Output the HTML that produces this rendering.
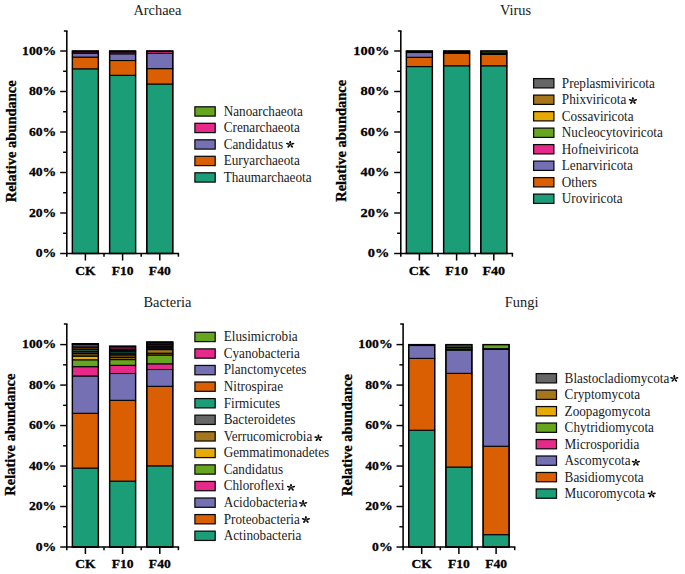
<!DOCTYPE html>
<html><head><meta charset="utf-8"><title>Relative abundance</title>
<style>
html,body{margin:0;padding:0;background:#fff;}
body{width:685px;height:574px;overflow:hidden;}
svg{display:block;}
text{font-family:'Liberation Serif', serif;fill:#1a1a1a;}
.b{fill:#000;stroke:#000;stroke-width:0.3px;}
</style></head>
<body>
<svg width="685" height="574" viewBox="0 0 685 574">
<rect width="685" height="574" fill="#fff"/>
<rect x="72.40" y="68.82" width="26.00" height="184.68" fill="#1b9e77" stroke="#000" stroke-width="1.05"/>
<rect x="72.40" y="57.08" width="26.00" height="11.74" fill="#d95f02" stroke="#000" stroke-width="1.05"/>
<rect x="72.40" y="53.23" width="26.00" height="3.85" fill="#7570b3" stroke="#000" stroke-width="1.05"/>
<rect x="72.40" y="51.81" width="26.00" height="1.42" fill="#c42275" stroke="#000" stroke-width="1.05"/>
<rect x="72.40" y="51.00" width="26.00" height="0.81" fill="#568d19" stroke="#000" stroke-width="1.05"/>
<rect x="72.40" y="51.00" width="26.00" height="202.50" fill="none" stroke="#000" stroke-width="1.35"/>
<rect x="109.60" y="75.30" width="26.00" height="178.20" fill="#1b9e77" stroke="#000" stroke-width="1.05"/>
<rect x="109.60" y="60.52" width="26.00" height="14.78" fill="#d95f02" stroke="#000" stroke-width="1.05"/>
<rect x="109.60" y="53.84" width="26.00" height="6.68" fill="#7570b3" stroke="#000" stroke-width="1.05"/>
<rect x="109.60" y="52.01" width="26.00" height="1.82" fill="#c42275" stroke="#000" stroke-width="1.05"/>
<rect x="109.60" y="51.00" width="26.00" height="1.01" fill="#568d19" stroke="#000" stroke-width="1.05"/>
<rect x="109.60" y="51.00" width="26.00" height="202.50" fill="none" stroke="#000" stroke-width="1.35"/>
<rect x="146.80" y="84.01" width="26.00" height="169.49" fill="#1b9e77" stroke="#000" stroke-width="1.05"/>
<rect x="146.80" y="68.62" width="26.00" height="15.39" fill="#d95f02" stroke="#000" stroke-width="1.05"/>
<rect x="146.80" y="53.43" width="26.00" height="15.19" fill="#7570b3" stroke="#000" stroke-width="1.05"/>
<rect x="146.80" y="51.41" width="26.00" height="2.03" fill="#c42275" stroke="#000" stroke-width="1.05"/>
<rect x="146.80" y="51.00" width="26.00" height="0.41" fill="#568d19" stroke="#000" stroke-width="1.05"/>
<rect x="146.80" y="51.00" width="26.00" height="202.50" fill="none" stroke="#000" stroke-width="1.35"/>
<line x1="66.80" y1="31.00" x2="66.80" y2="256.70" stroke="#000" stroke-width="1.55"/>
<line x1="63.90" y1="31.00" x2="67.50" y2="31.00" stroke="#000" stroke-width="1.5"/>
<line x1="60.20" y1="253.50" x2="66.80" y2="253.50" stroke="#000" stroke-width="1.45"/>
<line x1="63.10" y1="233.25" x2="66.80" y2="233.25" stroke="#000" stroke-width="1.45"/>
<line x1="60.20" y1="213.00" x2="66.80" y2="213.00" stroke="#000" stroke-width="1.45"/>
<line x1="63.10" y1="192.75" x2="66.80" y2="192.75" stroke="#000" stroke-width="1.45"/>
<line x1="60.20" y1="172.50" x2="66.80" y2="172.50" stroke="#000" stroke-width="1.45"/>
<line x1="63.10" y1="152.25" x2="66.80" y2="152.25" stroke="#000" stroke-width="1.45"/>
<line x1="60.20" y1="132.00" x2="66.80" y2="132.00" stroke="#000" stroke-width="1.45"/>
<line x1="63.10" y1="111.75" x2="66.80" y2="111.75" stroke="#000" stroke-width="1.45"/>
<line x1="60.20" y1="91.50" x2="66.80" y2="91.50" stroke="#000" stroke-width="1.45"/>
<line x1="63.10" y1="71.25" x2="66.80" y2="71.25" stroke="#000" stroke-width="1.45"/>
<line x1="60.20" y1="51.00" x2="66.80" y2="51.00" stroke="#000" stroke-width="1.45"/>
<line x1="65.90" y1="253.50" x2="179.10" y2="253.50" stroke="#000" stroke-width="1.4"/>
<line x1="85.40" y1="253.50" x2="85.40" y2="260.50" stroke="#000" stroke-width="1.5"/>
<line x1="104.00" y1="253.50" x2="104.00" y2="256.70" stroke="#000" stroke-width="1.5"/>
<line x1="122.60" y1="253.50" x2="122.60" y2="260.50" stroke="#000" stroke-width="1.5"/>
<line x1="141.20" y1="253.50" x2="141.20" y2="256.70" stroke="#000" stroke-width="1.5"/>
<line x1="159.80" y1="253.50" x2="159.80" y2="260.50" stroke="#000" stroke-width="1.5"/>
<line x1="178.40" y1="253.50" x2="178.40" y2="256.70" stroke="#000" stroke-width="1.5"/>
<text transform="translate(56.30 257.06) scale(1 0.87)" x="0" y="0" font-size="13.7" font-weight="bold" text-anchor="end"  class="b">0%</text>
<text transform="translate(56.30 216.56) scale(1 0.87)" x="0" y="0" font-size="13.7" font-weight="bold" text-anchor="end"  class="b">20%</text>
<text transform="translate(56.30 176.06) scale(1 0.87)" x="0" y="0" font-size="13.7" font-weight="bold" text-anchor="end"  class="b">40%</text>
<text transform="translate(56.30 135.56) scale(1 0.87)" x="0" y="0" font-size="13.7" font-weight="bold" text-anchor="end"  class="b">60%</text>
<text transform="translate(56.30 95.06) scale(1 0.87)" x="0" y="0" font-size="13.7" font-weight="bold" text-anchor="end"  class="b">80%</text>
<text transform="translate(56.30 54.56) scale(1 0.87)" x="0" y="0" font-size="13.7" font-weight="bold" text-anchor="end"  class="b">100%</text>
<text transform="translate(85.40 274.70) scale(1 0.9)" x="0" y="0" font-size="13.6" font-weight="bold" text-anchor="middle"  class="b">CK</text>
<text transform="translate(122.60 274.70) scale(1 0.9)" x="0" y="0" font-size="13.6" font-weight="bold" text-anchor="middle"  class="b">F10</text>
<text transform="translate(159.80 274.70) scale(1 0.9)" x="0" y="0" font-size="13.6" font-weight="bold" text-anchor="middle"  class="b">F40</text>
<text transform="translate(15.90,141.30) rotate(-90)" x="0" y="0" font-size="14.5" font-weight="bold" text-anchor="middle" class="b">Relative abundance</text>
<text x="133.40" y="15.20" font-size="14.4" font-weight="normal" text-anchor="start" >Archaea</text>
<rect x="194.90" y="106.80" width="20.3" height="9.3" fill="#66a61e" stroke="#0a0a0a" stroke-width="1.25"/>
<text transform="translate(223.70 115.85) scale(1 1.08)" x="0" y="0" font-size="13.2" font-weight="normal" text-anchor="start">Nanoarchaeota</text>
<rect x="194.90" y="123.30" width="20.3" height="9.3" fill="#e7298a" stroke="#0a0a0a" stroke-width="1.25"/>
<text transform="translate(223.70 132.35) scale(1 1.08)" x="0" y="0" font-size="13.2" font-weight="normal" text-anchor="start">Crenarchaeota</text>
<rect x="194.90" y="139.80" width="20.3" height="9.3" fill="#7570b3" stroke="#0a0a0a" stroke-width="1.25"/>
<text transform="translate(223.70 148.85) scale(1 1.08)" x="0" y="0" font-size="13.2" font-weight="normal" text-anchor="start">Candidatus</text>
<g fill="#000" transform="translate(0 20.23) scale(1 0.86)"><ellipse cx="290.20" cy="141.92" rx="1.81" ry="0.95" transform="rotate(-90 290.20 141.92)"/><ellipse cx="292.65" cy="143.70" rx="1.81" ry="0.95" transform="rotate(-18 292.65 143.70)"/><ellipse cx="291.72" cy="146.59" rx="1.81" ry="0.95" transform="rotate(54 291.72 146.59)"/><ellipse cx="288.68" cy="146.59" rx="1.81" ry="0.95" transform="rotate(126 288.68 146.59)"/><ellipse cx="287.75" cy="143.70" rx="1.81" ry="0.95" transform="rotate(198 287.75 143.70)"/><circle cx="290.20" cy="144.50" r="0.95"/></g>
<rect x="194.90" y="156.30" width="20.3" height="9.3" fill="#d95f02" stroke="#0a0a0a" stroke-width="1.25"/>
<text transform="translate(223.70 165.35) scale(1 1.08)" x="0" y="0" font-size="13.2" font-weight="normal" text-anchor="start">Euryarchaeota</text>
<rect x="194.90" y="172.80" width="20.3" height="9.3" fill="#1b9e77" stroke="#0a0a0a" stroke-width="1.25"/>
<text transform="translate(223.70 181.85) scale(1 1.08)" x="0" y="0" font-size="13.2" font-weight="normal" text-anchor="start">Thaumarchaeota</text>
<rect x="406.40" y="66.59" width="26.00" height="186.91" fill="#1b9e77" stroke="#000" stroke-width="1.05"/>
<rect x="406.40" y="57.28" width="26.00" height="9.31" fill="#d95f02" stroke="#000" stroke-width="1.05"/>
<rect x="406.40" y="52.52" width="26.00" height="4.76" fill="#7570b3" stroke="#000" stroke-width="1.05"/>
<rect x="406.40" y="51.81" width="26.00" height="0.71" fill="#301020" stroke="#000" stroke-width="1.05"/>
<rect x="406.40" y="51.00" width="26.00" height="0.81" fill="#0a0a0a" stroke="#000" stroke-width="1.05"/>
<rect x="406.40" y="51.00" width="26.00" height="202.50" fill="none" stroke="#000" stroke-width="1.35"/>
<rect x="443.60" y="65.78" width="26.00" height="187.72" fill="#1b9e77" stroke="#000" stroke-width="1.05"/>
<rect x="443.60" y="53.43" width="26.00" height="12.35" fill="#d95f02" stroke="#000" stroke-width="1.05"/>
<rect x="443.60" y="52.22" width="26.00" height="1.22" fill="#7570b3" stroke="#000" stroke-width="1.05"/>
<rect x="443.60" y="51.00" width="26.00" height="1.22" fill="#1a1010" stroke="#000" stroke-width="1.05"/>
<rect x="443.60" y="51.00" width="26.00" height="202.50" fill="none" stroke="#000" stroke-width="1.35"/>
<rect x="480.80" y="65.78" width="26.00" height="187.72" fill="#1b9e77" stroke="#000" stroke-width="1.05"/>
<rect x="480.80" y="54.44" width="26.00" height="11.34" fill="#d95f02" stroke="#000" stroke-width="1.05"/>
<rect x="480.80" y="52.82" width="26.00" height="1.62" fill="#0a0a0a" stroke="#000" stroke-width="1.05"/>
<rect x="480.80" y="51.00" width="26.00" height="1.82" fill="#66a61e" stroke="#000" stroke-width="1.05"/>
<rect x="480.80" y="51.00" width="26.00" height="202.50" fill="none" stroke="#000" stroke-width="1.35"/>
<line x1="400.80" y1="31.00" x2="400.80" y2="256.70" stroke="#000" stroke-width="1.55"/>
<line x1="397.90" y1="31.00" x2="401.50" y2="31.00" stroke="#000" stroke-width="1.5"/>
<line x1="394.20" y1="253.50" x2="400.80" y2="253.50" stroke="#000" stroke-width="1.45"/>
<line x1="397.10" y1="233.25" x2="400.80" y2="233.25" stroke="#000" stroke-width="1.45"/>
<line x1="394.20" y1="213.00" x2="400.80" y2="213.00" stroke="#000" stroke-width="1.45"/>
<line x1="397.10" y1="192.75" x2="400.80" y2="192.75" stroke="#000" stroke-width="1.45"/>
<line x1="394.20" y1="172.50" x2="400.80" y2="172.50" stroke="#000" stroke-width="1.45"/>
<line x1="397.10" y1="152.25" x2="400.80" y2="152.25" stroke="#000" stroke-width="1.45"/>
<line x1="394.20" y1="132.00" x2="400.80" y2="132.00" stroke="#000" stroke-width="1.45"/>
<line x1="397.10" y1="111.75" x2="400.80" y2="111.75" stroke="#000" stroke-width="1.45"/>
<line x1="394.20" y1="91.50" x2="400.80" y2="91.50" stroke="#000" stroke-width="1.45"/>
<line x1="397.10" y1="71.25" x2="400.80" y2="71.25" stroke="#000" stroke-width="1.45"/>
<line x1="394.20" y1="51.00" x2="400.80" y2="51.00" stroke="#000" stroke-width="1.45"/>
<line x1="399.90" y1="253.50" x2="513.10" y2="253.50" stroke="#000" stroke-width="1.4"/>
<line x1="419.40" y1="253.50" x2="419.40" y2="260.50" stroke="#000" stroke-width="1.5"/>
<line x1="438.00" y1="253.50" x2="438.00" y2="256.70" stroke="#000" stroke-width="1.5"/>
<line x1="456.60" y1="253.50" x2="456.60" y2="260.50" stroke="#000" stroke-width="1.5"/>
<line x1="475.20" y1="253.50" x2="475.20" y2="256.70" stroke="#000" stroke-width="1.5"/>
<line x1="493.80" y1="253.50" x2="493.80" y2="260.50" stroke="#000" stroke-width="1.5"/>
<line x1="512.40" y1="253.50" x2="512.40" y2="256.70" stroke="#000" stroke-width="1.5"/>
<text transform="translate(389.30 257.24) scale(1 0.87)" x="0" y="0" font-size="14.4" font-weight="bold" text-anchor="end"  class="b">0%</text>
<text transform="translate(389.30 216.74) scale(1 0.87)" x="0" y="0" font-size="14.4" font-weight="bold" text-anchor="end"  class="b">20%</text>
<text transform="translate(389.30 176.24) scale(1 0.87)" x="0" y="0" font-size="14.4" font-weight="bold" text-anchor="end"  class="b">40%</text>
<text transform="translate(389.30 135.74) scale(1 0.87)" x="0" y="0" font-size="14.4" font-weight="bold" text-anchor="end"  class="b">60%</text>
<text transform="translate(389.30 95.24) scale(1 0.87)" x="0" y="0" font-size="14.4" font-weight="bold" text-anchor="end"  class="b">80%</text>
<text transform="translate(389.30 54.74) scale(1 0.87)" x="0" y="0" font-size="14.4" font-weight="bold" text-anchor="end"  class="b">100%</text>
<text transform="translate(419.40 274.70) scale(1 0.9)" x="0" y="0" font-size="14.1" font-weight="bold" text-anchor="middle"  class="b">CK</text>
<text transform="translate(456.60 274.70) scale(1 0.9)" x="0" y="0" font-size="14.1" font-weight="bold" text-anchor="middle"  class="b">F10</text>
<text transform="translate(493.80 274.70) scale(1 0.9)" x="0" y="0" font-size="14.1" font-weight="bold" text-anchor="middle"  class="b">F40</text>
<text transform="translate(346.40,140.80) rotate(-90)" x="0" y="0" font-size="14.5" font-weight="bold" text-anchor="middle" class="b">Relative abundance</text>
<text x="500.00" y="15.20" font-size="14.4" font-weight="normal" text-anchor="start" >Virus</text>
<rect x="533.60" y="78.60" width="20.3" height="9.3" fill="#666666" stroke="#0a0a0a" stroke-width="1.25"/>
<text transform="translate(561.80 87.65) scale(1 1.08)" x="0" y="0" font-size="13.2" font-weight="normal" text-anchor="start">Preplasmiviricota</text>
<rect x="533.60" y="95.10" width="20.3" height="9.3" fill="#a6761d" stroke="#0a0a0a" stroke-width="1.25"/>
<text transform="translate(561.80 104.15) scale(1 1.08)" x="0" y="0" font-size="13.2" font-weight="normal" text-anchor="start">Phixviricota</text>
<g fill="#000" transform="translate(0 14.10) scale(1 0.86)"><ellipse cx="632.90" cy="98.12" rx="1.81" ry="0.95" transform="rotate(-90 632.90 98.12)"/><ellipse cx="635.35" cy="99.90" rx="1.81" ry="0.95" transform="rotate(-18 635.35 99.90)"/><ellipse cx="634.42" cy="102.79" rx="1.81" ry="0.95" transform="rotate(54 634.42 102.79)"/><ellipse cx="631.38" cy="102.79" rx="1.81" ry="0.95" transform="rotate(126 631.38 102.79)"/><ellipse cx="630.45" cy="99.90" rx="1.81" ry="0.95" transform="rotate(198 630.45 99.90)"/><circle cx="632.90" cy="100.70" r="0.95"/></g>
<rect x="533.60" y="111.60" width="20.3" height="9.3" fill="#e6ab02" stroke="#0a0a0a" stroke-width="1.25"/>
<text transform="translate(561.80 120.65) scale(1 1.08)" x="0" y="0" font-size="13.2" font-weight="normal" text-anchor="start">Cossaviricota</text>
<rect x="533.60" y="128.10" width="20.3" height="9.3" fill="#66a61e" stroke="#0a0a0a" stroke-width="1.25"/>
<text transform="translate(561.80 137.15) scale(1 1.08)" x="0" y="0" font-size="13.2" font-weight="normal" text-anchor="start">Nucleocytoviricota</text>
<rect x="533.60" y="144.60" width="20.3" height="9.3" fill="#e7298a" stroke="#0a0a0a" stroke-width="1.25"/>
<text transform="translate(561.80 153.65) scale(1 1.08)" x="0" y="0" font-size="13.2" font-weight="normal" text-anchor="start">Hofneiviricota</text>
<rect x="533.60" y="161.10" width="20.3" height="9.3" fill="#7570b3" stroke="#0a0a0a" stroke-width="1.25"/>
<text transform="translate(561.80 170.15) scale(1 1.08)" x="0" y="0" font-size="13.2" font-weight="normal" text-anchor="start">Lenarviricota</text>
<rect x="533.60" y="177.60" width="20.3" height="9.3" fill="#d95f02" stroke="#0a0a0a" stroke-width="1.25"/>
<text transform="translate(561.80 186.65) scale(1 1.08)" x="0" y="0" font-size="13.2" font-weight="normal" text-anchor="start">Others</text>
<rect x="533.60" y="194.10" width="20.3" height="9.3" fill="#1b9e77" stroke="#0a0a0a" stroke-width="1.25"/>
<text transform="translate(561.80 203.15) scale(1 1.08)" x="0" y="0" font-size="13.2" font-weight="normal" text-anchor="start">Uroviricota</text>
<rect x="72.40" y="468.06" width="26.00" height="78.94" fill="#1b9e77" stroke="#000" stroke-width="1.05"/>
<rect x="72.40" y="413.29" width="26.00" height="54.77" fill="#d95f02" stroke="#000" stroke-width="1.05"/>
<rect x="72.40" y="375.97" width="26.00" height="37.32" fill="#7570b3" stroke="#000" stroke-width="1.05"/>
<rect x="72.40" y="366.66" width="26.00" height="9.31" fill="#e7298a" stroke="#000" stroke-width="1.05"/>
<rect x="72.40" y="359.78" width="26.00" height="6.88" fill="#66a61e" stroke="#000" stroke-width="1.05"/>
<rect x="72.40" y="356.14" width="26.00" height="3.64" fill="#e6ab02" stroke="#000" stroke-width="1.05"/>
<rect x="72.40" y="353.30" width="26.00" height="2.83" fill="#634611" stroke="#000" stroke-width="1.05"/>
<rect x="72.40" y="351.48" width="26.00" height="1.82" fill="#3d3d3d" stroke="#000" stroke-width="1.05"/>
<rect x="72.40" y="349.26" width="26.00" height="2.23" fill="#105e47" stroke="#000" stroke-width="1.05"/>
<rect x="72.40" y="347.03" width="26.00" height="2.23" fill="#823901" stroke="#000" stroke-width="1.05"/>
<rect x="72.40" y="344.40" width="26.00" height="2.63" fill="#46436b" stroke="#000" stroke-width="1.05"/>
<rect x="72.40" y="343.99" width="26.00" height="0.40" fill="#8a1852" stroke="#000" stroke-width="1.05"/>
<rect x="72.40" y="343.69" width="26.00" height="0.30" fill="#3d6312" stroke="#000" stroke-width="1.05"/>
<rect x="72.40" y="343.69" width="26.00" height="203.31" fill="none" stroke="#000" stroke-width="1.35"/>
<rect x="109.60" y="481.12" width="26.00" height="65.88" fill="#1b9e77" stroke="#000" stroke-width="1.05"/>
<rect x="109.60" y="400.30" width="26.00" height="80.82" fill="#d95f02" stroke="#000" stroke-width="1.05"/>
<rect x="109.60" y="373.50" width="26.00" height="26.80" fill="#7570b3" stroke="#000" stroke-width="1.05"/>
<rect x="109.60" y="365.31" width="26.00" height="8.20" fill="#e7298a" stroke="#000" stroke-width="1.05"/>
<rect x="109.60" y="359.60" width="26.00" height="5.71" fill="#66a61e" stroke="#000" stroke-width="1.05"/>
<rect x="109.60" y="357.49" width="26.00" height="2.10" fill="#8a6601" stroke="#000" stroke-width="1.05"/>
<rect x="109.60" y="354.80" width="26.00" height="2.69" fill="#634611" stroke="#000" stroke-width="1.05"/>
<rect x="109.60" y="353.20" width="26.00" height="1.60" fill="#3d3d3d" stroke="#000" stroke-width="1.05"/>
<rect x="109.60" y="351.20" width="26.00" height="2.00" fill="#105e47" stroke="#000" stroke-width="1.05"/>
<rect x="109.60" y="350.27" width="26.00" height="0.93" fill="#823901" stroke="#000" stroke-width="1.05"/>
<rect x="109.60" y="349.30" width="26.00" height="0.97" fill="#46436b" stroke="#000" stroke-width="1.05"/>
<rect x="109.60" y="346.73" width="26.00" height="2.57" fill="#8a1852" stroke="#000" stroke-width="1.05"/>
<rect x="109.60" y="346.22" width="26.00" height="0.51" fill="#3d6312" stroke="#000" stroke-width="1.05"/>
<rect x="109.60" y="346.22" width="26.00" height="200.78" fill="none" stroke="#000" stroke-width="1.35"/>
<rect x="146.80" y="465.84" width="26.00" height="81.16" fill="#1b9e77" stroke="#000" stroke-width="1.05"/>
<rect x="146.80" y="386.29" width="26.00" height="79.54" fill="#d95f02" stroke="#000" stroke-width="1.05"/>
<rect x="146.80" y="369.50" width="26.00" height="16.80" fill="#7570b3" stroke="#000" stroke-width="1.05"/>
<rect x="146.80" y="363.83" width="26.00" height="5.67" fill="#e7298a" stroke="#000" stroke-width="1.05"/>
<rect x="146.80" y="355.00" width="26.00" height="8.82" fill="#66a61e" stroke="#000" stroke-width="1.05"/>
<rect x="146.80" y="353.20" width="26.00" height="1.80" fill="#8a6601" stroke="#000" stroke-width="1.05"/>
<rect x="146.80" y="349.60" width="26.00" height="3.60" fill="#a6761d" stroke="#000" stroke-width="1.05"/>
<rect x="146.80" y="345.90" width="26.00" height="3.70" fill="#0a0a0a" stroke="#000" stroke-width="1.05"/>
<rect x="146.80" y="344.30" width="26.00" height="1.60" fill="#46436b" stroke="#000" stroke-width="1.05"/>
<rect x="146.80" y="342.80" width="26.00" height="1.50" fill="#8a1852" stroke="#000" stroke-width="1.05"/>
<rect x="146.80" y="342.01" width="26.00" height="0.79" fill="#3d6312" stroke="#000" stroke-width="1.05"/>
<rect x="146.80" y="342.01" width="26.00" height="204.99" fill="none" stroke="#000" stroke-width="1.35"/>
<line x1="66.80" y1="324.00" x2="66.80" y2="550.20" stroke="#000" stroke-width="1.55"/>
<line x1="63.90" y1="324.00" x2="67.50" y2="324.00" stroke="#000" stroke-width="1.5"/>
<line x1="60.20" y1="547.00" x2="66.80" y2="547.00" stroke="#000" stroke-width="1.45"/>
<line x1="63.10" y1="526.76" x2="66.80" y2="526.76" stroke="#000" stroke-width="1.45"/>
<line x1="60.20" y1="506.52" x2="66.80" y2="506.52" stroke="#000" stroke-width="1.45"/>
<line x1="63.10" y1="486.28" x2="66.80" y2="486.28" stroke="#000" stroke-width="1.45"/>
<line x1="60.20" y1="466.04" x2="66.80" y2="466.04" stroke="#000" stroke-width="1.45"/>
<line x1="63.10" y1="445.80" x2="66.80" y2="445.80" stroke="#000" stroke-width="1.45"/>
<line x1="60.20" y1="425.56" x2="66.80" y2="425.56" stroke="#000" stroke-width="1.45"/>
<line x1="63.10" y1="405.32" x2="66.80" y2="405.32" stroke="#000" stroke-width="1.45"/>
<line x1="60.20" y1="385.08" x2="66.80" y2="385.08" stroke="#000" stroke-width="1.45"/>
<line x1="63.10" y1="364.84" x2="66.80" y2="364.84" stroke="#000" stroke-width="1.45"/>
<line x1="60.20" y1="344.60" x2="66.80" y2="344.60" stroke="#000" stroke-width="1.45"/>
<line x1="65.90" y1="547.00" x2="179.10" y2="547.00" stroke="#000" stroke-width="1.4"/>
<line x1="85.40" y1="547.00" x2="85.40" y2="554.00" stroke="#000" stroke-width="1.5"/>
<line x1="104.00" y1="547.00" x2="104.00" y2="550.20" stroke="#000" stroke-width="1.5"/>
<line x1="122.60" y1="547.00" x2="122.60" y2="554.00" stroke="#000" stroke-width="1.5"/>
<line x1="141.20" y1="547.00" x2="141.20" y2="550.20" stroke="#000" stroke-width="1.5"/>
<line x1="159.80" y1="547.00" x2="159.80" y2="554.00" stroke="#000" stroke-width="1.5"/>
<line x1="178.40" y1="547.00" x2="178.40" y2="550.20" stroke="#000" stroke-width="1.5"/>
<text transform="translate(56.30 550.56) scale(1 0.87)" x="0" y="0" font-size="13.7" font-weight="bold" text-anchor="end"  class="b">0%</text>
<text transform="translate(56.30 510.08) scale(1 0.87)" x="0" y="0" font-size="13.7" font-weight="bold" text-anchor="end"  class="b">20%</text>
<text transform="translate(56.30 469.60) scale(1 0.87)" x="0" y="0" font-size="13.7" font-weight="bold" text-anchor="end"  class="b">40%</text>
<text transform="translate(56.30 429.12) scale(1 0.87)" x="0" y="0" font-size="13.7" font-weight="bold" text-anchor="end"  class="b">60%</text>
<text transform="translate(56.30 388.64) scale(1 0.87)" x="0" y="0" font-size="13.7" font-weight="bold" text-anchor="end"  class="b">80%</text>
<text transform="translate(56.30 348.16) scale(1 0.87)" x="0" y="0" font-size="13.7" font-weight="bold" text-anchor="end"  class="b">100%</text>
<text transform="translate(85.40 568.20) scale(1 0.9)" x="0" y="0" font-size="13.6" font-weight="bold" text-anchor="middle"  class="b">CK</text>
<text transform="translate(122.60 568.20) scale(1 0.9)" x="0" y="0" font-size="13.6" font-weight="bold" text-anchor="middle"  class="b">F10</text>
<text transform="translate(159.80 568.20) scale(1 0.9)" x="0" y="0" font-size="13.6" font-weight="bold" text-anchor="middle"  class="b">F40</text>
<text transform="translate(15.30,434.70) rotate(-90)" x="0" y="0" font-size="14.5" font-weight="bold" text-anchor="middle" class="b">Relative abundance</text>
<text x="143.40" y="306.70" font-size="14.4" font-weight="normal" text-anchor="start" >Bacteria</text>
<rect x="194.90" y="332.30" width="20.3" height="9.3" fill="#66a61e" stroke="#0a0a0a" stroke-width="1.25"/>
<text transform="translate(223.70 341.35) scale(1 1.08)" x="0" y="0" font-size="13.2" font-weight="normal" text-anchor="start">Elusimicrobia</text>
<rect x="194.90" y="348.87" width="20.3" height="9.3" fill="#e7298a" stroke="#0a0a0a" stroke-width="1.25"/>
<text transform="translate(223.70 357.92) scale(1 1.08)" x="0" y="0" font-size="13.2" font-weight="normal" text-anchor="start">Cyanobacteria</text>
<rect x="194.90" y="365.44" width="20.3" height="9.3" fill="#7570b3" stroke="#0a0a0a" stroke-width="1.25"/>
<text transform="translate(223.70 374.49) scale(1 1.08)" x="0" y="0" font-size="13.2" font-weight="normal" text-anchor="start">Planctomycetes</text>
<rect x="194.90" y="382.01" width="20.3" height="9.3" fill="#d95f02" stroke="#0a0a0a" stroke-width="1.25"/>
<text transform="translate(223.70 391.06) scale(1 1.08)" x="0" y="0" font-size="13.2" font-weight="normal" text-anchor="start">Nitrospirae</text>
<rect x="194.90" y="398.58" width="20.3" height="9.3" fill="#1b9e77" stroke="#0a0a0a" stroke-width="1.25"/>
<text transform="translate(223.70 407.63) scale(1 1.08)" x="0" y="0" font-size="13.2" font-weight="normal" text-anchor="start">Firmicutes</text>
<rect x="194.90" y="415.15" width="20.3" height="9.3" fill="#666666" stroke="#0a0a0a" stroke-width="1.25"/>
<text transform="translate(223.70 424.20) scale(1 1.08)" x="0" y="0" font-size="13.2" font-weight="normal" text-anchor="start">Bacteroidetes</text>
<rect x="194.90" y="431.72" width="20.3" height="9.3" fill="#a6761d" stroke="#0a0a0a" stroke-width="1.25"/>
<text transform="translate(223.70 440.77) scale(1 1.08)" x="0" y="0" font-size="13.2" font-weight="normal" text-anchor="start">Verrucomicrobia</text>
<g fill="#000" transform="translate(0 61.31) scale(1 0.86)"><ellipse cx="318.40" cy="435.32" rx="1.81" ry="0.95" transform="rotate(-90 318.40 435.32)"/><ellipse cx="320.85" cy="437.10" rx="1.81" ry="0.95" transform="rotate(-18 320.85 437.10)"/><ellipse cx="319.92" cy="439.99" rx="1.81" ry="0.95" transform="rotate(54 319.92 439.99)"/><ellipse cx="316.88" cy="439.99" rx="1.81" ry="0.95" transform="rotate(126 316.88 439.99)"/><ellipse cx="315.95" cy="437.10" rx="1.81" ry="0.95" transform="rotate(198 315.95 437.10)"/><circle cx="318.40" cy="437.90" r="0.95"/></g>
<rect x="194.90" y="448.29" width="20.3" height="9.3" fill="#e6ab02" stroke="#0a0a0a" stroke-width="1.25"/>
<text transform="translate(223.70 457.34) scale(1 1.08)" x="0" y="0" font-size="13.2" font-weight="normal" text-anchor="start">Gemmatimonadetes</text>
<rect x="194.90" y="464.86" width="20.3" height="9.3" fill="#66a61e" stroke="#0a0a0a" stroke-width="1.25"/>
<text transform="translate(223.70 473.91) scale(1 1.08)" x="0" y="0" font-size="13.2" font-weight="normal" text-anchor="start">Candidatus</text>
<rect x="194.90" y="481.43" width="20.3" height="9.3" fill="#e7298a" stroke="#0a0a0a" stroke-width="1.25"/>
<text transform="translate(223.70 490.48) scale(1 1.08)" x="0" y="0" font-size="13.2" font-weight="normal" text-anchor="start">Chloroflexi</text>
<g fill="#000" transform="translate(0 68.25) scale(1 0.86)"><ellipse cx="291.00" cy="484.92" rx="1.81" ry="0.95" transform="rotate(-90 291.00 484.92)"/><ellipse cx="293.45" cy="486.70" rx="1.81" ry="0.95" transform="rotate(-18 293.45 486.70)"/><ellipse cx="292.52" cy="489.59" rx="1.81" ry="0.95" transform="rotate(54 292.52 489.59)"/><ellipse cx="289.48" cy="489.59" rx="1.81" ry="0.95" transform="rotate(126 289.48 489.59)"/><ellipse cx="288.55" cy="486.70" rx="1.81" ry="0.95" transform="rotate(198 288.55 486.70)"/><circle cx="291.00" cy="487.50" r="0.95"/></g>
<rect x="194.90" y="498.00" width="20.3" height="9.3" fill="#7570b3" stroke="#0a0a0a" stroke-width="1.25"/>
<text transform="translate(223.70 507.05) scale(1 1.08)" x="0" y="0" font-size="13.2" font-weight="normal" text-anchor="start">Acidobacteria</text>
<g fill="#000" transform="translate(0 70.50) scale(1 0.86)"><ellipse cx="303.10" cy="501.02" rx="1.81" ry="0.95" transform="rotate(-90 303.10 501.02)"/><ellipse cx="305.55" cy="502.80" rx="1.81" ry="0.95" transform="rotate(-18 305.55 502.80)"/><ellipse cx="304.62" cy="505.69" rx="1.81" ry="0.95" transform="rotate(54 304.62 505.69)"/><ellipse cx="301.58" cy="505.69" rx="1.81" ry="0.95" transform="rotate(126 301.58 505.69)"/><ellipse cx="300.65" cy="502.80" rx="1.81" ry="0.95" transform="rotate(198 300.65 502.80)"/><circle cx="303.10" cy="503.60" r="0.95"/></g>
<rect x="194.90" y="514.57" width="20.3" height="9.3" fill="#d95f02" stroke="#0a0a0a" stroke-width="1.25"/>
<text transform="translate(223.70 523.62) scale(1 1.08)" x="0" y="0" font-size="13.2" font-weight="normal" text-anchor="start">Proteobacteria</text>
<g fill="#000" transform="translate(0 72.76) scale(1 0.86)"><ellipse cx="305.90" cy="517.12" rx="1.81" ry="0.95" transform="rotate(-90 305.90 517.12)"/><ellipse cx="308.35" cy="518.90" rx="1.81" ry="0.95" transform="rotate(-18 308.35 518.90)"/><ellipse cx="307.42" cy="521.79" rx="1.81" ry="0.95" transform="rotate(54 307.42 521.79)"/><ellipse cx="304.38" cy="521.79" rx="1.81" ry="0.95" transform="rotate(126 304.38 521.79)"/><ellipse cx="303.45" cy="518.90" rx="1.81" ry="0.95" transform="rotate(198 303.45 518.90)"/><circle cx="305.90" cy="519.70" r="0.95"/></g>
<rect x="194.90" y="531.14" width="20.3" height="9.3" fill="#1b9e77" stroke="#0a0a0a" stroke-width="1.25"/>
<text transform="translate(223.70 540.19) scale(1 1.08)" x="0" y="0" font-size="13.2" font-weight="normal" text-anchor="start">Actinobacteria</text>
<rect x="408.70" y="430.22" width="26.00" height="116.78" fill="#1b9e77" stroke="#000" stroke-width="1.05"/>
<rect x="408.70" y="358.36" width="26.00" height="71.85" fill="#d95f02" stroke="#000" stroke-width="1.05"/>
<rect x="408.70" y="345.51" width="26.00" height="12.85" fill="#7570b3" stroke="#000" stroke-width="1.05"/>
<rect x="408.70" y="344.60" width="26.00" height="0.91" fill="#515151" stroke="#000" stroke-width="1.05"/>
<rect x="408.70" y="344.60" width="26.00" height="202.40" fill="none" stroke="#000" stroke-width="1.35"/>
<rect x="445.90" y="467.05" width="26.00" height="79.95" fill="#1b9e77" stroke="#000" stroke-width="1.05"/>
<rect x="445.90" y="373.34" width="26.00" height="93.71" fill="#d95f02" stroke="#000" stroke-width="1.05"/>
<rect x="445.90" y="350.06" width="26.00" height="23.28" fill="#7570b3" stroke="#000" stroke-width="1.05"/>
<rect x="445.90" y="349.26" width="26.00" height="0.81" fill="#190613" stroke="#000" stroke-width="1.05"/>
<rect x="445.90" y="347.43" width="26.00" height="1.82" fill="#325420" stroke="#000" stroke-width="1.05"/>
<rect x="445.90" y="344.60" width="26.00" height="2.83" fill="#49483c" stroke="#000" stroke-width="1.05"/>
<rect x="445.90" y="344.60" width="26.00" height="202.40" fill="none" stroke="#000" stroke-width="1.35"/>
<rect x="483.10" y="534.65" width="26.00" height="12.35" fill="#1b9e77" stroke="#000" stroke-width="1.05"/>
<rect x="483.10" y="446.20" width="26.00" height="88.45" fill="#d95f02" stroke="#000" stroke-width="1.05"/>
<rect x="483.10" y="349.46" width="26.00" height="96.75" fill="#7570b3" stroke="#000" stroke-width="1.05"/>
<rect x="483.10" y="348.65" width="26.00" height="0.81" fill="#b8206e" stroke="#000" stroke-width="1.05"/>
<rect x="483.10" y="344.60" width="26.00" height="4.05" fill="#66a61e" stroke="#000" stroke-width="1.05"/>
<rect x="483.10" y="344.60" width="26.00" height="202.40" fill="none" stroke="#000" stroke-width="1.35"/>
<line x1="403.10" y1="324.00" x2="403.10" y2="550.20" stroke="#000" stroke-width="1.55"/>
<line x1="400.20" y1="324.00" x2="403.80" y2="324.00" stroke="#000" stroke-width="1.5"/>
<line x1="396.50" y1="547.00" x2="403.10" y2="547.00" stroke="#000" stroke-width="1.45"/>
<line x1="399.40" y1="526.76" x2="403.10" y2="526.76" stroke="#000" stroke-width="1.45"/>
<line x1="396.50" y1="506.52" x2="403.10" y2="506.52" stroke="#000" stroke-width="1.45"/>
<line x1="399.40" y1="486.28" x2="403.10" y2="486.28" stroke="#000" stroke-width="1.45"/>
<line x1="396.50" y1="466.04" x2="403.10" y2="466.04" stroke="#000" stroke-width="1.45"/>
<line x1="399.40" y1="445.80" x2="403.10" y2="445.80" stroke="#000" stroke-width="1.45"/>
<line x1="396.50" y1="425.56" x2="403.10" y2="425.56" stroke="#000" stroke-width="1.45"/>
<line x1="399.40" y1="405.32" x2="403.10" y2="405.32" stroke="#000" stroke-width="1.45"/>
<line x1="396.50" y1="385.08" x2="403.10" y2="385.08" stroke="#000" stroke-width="1.45"/>
<line x1="399.40" y1="364.84" x2="403.10" y2="364.84" stroke="#000" stroke-width="1.45"/>
<line x1="396.50" y1="344.60" x2="403.10" y2="344.60" stroke="#000" stroke-width="1.45"/>
<line x1="402.20" y1="547.00" x2="515.40" y2="547.00" stroke="#000" stroke-width="1.4"/>
<line x1="421.70" y1="547.00" x2="421.70" y2="554.00" stroke="#000" stroke-width="1.5"/>
<line x1="440.30" y1="547.00" x2="440.30" y2="550.20" stroke="#000" stroke-width="1.5"/>
<line x1="458.90" y1="547.00" x2="458.90" y2="554.00" stroke="#000" stroke-width="1.5"/>
<line x1="477.50" y1="547.00" x2="477.50" y2="550.20" stroke="#000" stroke-width="1.5"/>
<line x1="496.10" y1="547.00" x2="496.10" y2="554.00" stroke="#000" stroke-width="1.5"/>
<line x1="514.70" y1="547.00" x2="514.70" y2="550.20" stroke="#000" stroke-width="1.5"/>
<text transform="translate(392.60 550.56) scale(1 0.87)" x="0" y="0" font-size="13.7" font-weight="bold" text-anchor="end"  class="b">0%</text>
<text transform="translate(392.60 510.08) scale(1 0.87)" x="0" y="0" font-size="13.7" font-weight="bold" text-anchor="end"  class="b">20%</text>
<text transform="translate(392.60 469.60) scale(1 0.87)" x="0" y="0" font-size="13.7" font-weight="bold" text-anchor="end"  class="b">40%</text>
<text transform="translate(392.60 429.12) scale(1 0.87)" x="0" y="0" font-size="13.7" font-weight="bold" text-anchor="end"  class="b">60%</text>
<text transform="translate(392.60 388.64) scale(1 0.87)" x="0" y="0" font-size="13.7" font-weight="bold" text-anchor="end"  class="b">80%</text>
<text transform="translate(392.60 348.16) scale(1 0.87)" x="0" y="0" font-size="13.7" font-weight="bold" text-anchor="end"  class="b">100%</text>
<text transform="translate(421.70 568.20) scale(1 0.9)" x="0" y="0" font-size="13.6" font-weight="bold" text-anchor="middle"  class="b">CK</text>
<text transform="translate(458.90 568.20) scale(1 0.9)" x="0" y="0" font-size="13.6" font-weight="bold" text-anchor="middle"  class="b">F10</text>
<text transform="translate(496.10 568.20) scale(1 0.9)" x="0" y="0" font-size="13.6" font-weight="bold" text-anchor="middle"  class="b">F40</text>
<text transform="translate(352.30,435.00) rotate(-90)" x="0" y="0" font-size="14.5" font-weight="bold" text-anchor="middle" class="b">Relative abundance</text>
<text x="504.80" y="306.60" font-size="14.4" font-weight="normal" text-anchor="start" >Fungi</text>
<rect x="536.20" y="373.60" width="20.3" height="9.3" fill="#666666" stroke="#0a0a0a" stroke-width="1.25"/>
<text transform="translate(564.60 382.65) scale(1 1.08)" x="0" y="0" font-size="13.2" font-weight="normal" text-anchor="start">Blastocladiomycota</text>
<g fill="#000" transform="translate(0 53.00) scale(1 0.86)"><ellipse cx="674.30" cy="376.02" rx="1.81" ry="0.95" transform="rotate(-90 674.30 376.02)"/><ellipse cx="676.75" cy="377.80" rx="1.81" ry="0.95" transform="rotate(-18 676.75 377.80)"/><ellipse cx="675.82" cy="380.69" rx="1.81" ry="0.95" transform="rotate(54 675.82 380.69)"/><ellipse cx="672.78" cy="380.69" rx="1.81" ry="0.95" transform="rotate(126 672.78 380.69)"/><ellipse cx="671.85" cy="377.80" rx="1.81" ry="0.95" transform="rotate(198 671.85 377.80)"/><circle cx="674.30" cy="378.60" r="0.95"/></g>
<rect x="536.20" y="390.08" width="20.3" height="9.3" fill="#a6761d" stroke="#0a0a0a" stroke-width="1.25"/>
<text transform="translate(564.60 399.13) scale(1 1.08)" x="0" y="0" font-size="13.2" font-weight="normal" text-anchor="start">Cryptomycota</text>
<rect x="536.20" y="406.56" width="20.3" height="9.3" fill="#e6ab02" stroke="#0a0a0a" stroke-width="1.25"/>
<text transform="translate(564.60 415.61) scale(1 1.08)" x="0" y="0" font-size="13.2" font-weight="normal" text-anchor="start">Zoopagomycota</text>
<rect x="536.20" y="423.04" width="20.3" height="9.3" fill="#66a61e" stroke="#0a0a0a" stroke-width="1.25"/>
<text transform="translate(564.60 432.09) scale(1 1.08)" x="0" y="0" font-size="13.2" font-weight="normal" text-anchor="start">Chytridiomycota</text>
<rect x="536.20" y="439.52" width="20.3" height="9.3" fill="#e7298a" stroke="#0a0a0a" stroke-width="1.25"/>
<text transform="translate(564.60 448.57) scale(1 1.08)" x="0" y="0" font-size="13.2" font-weight="normal" text-anchor="start">Microsporidia</text>
<rect x="536.20" y="456.00" width="20.3" height="9.3" fill="#7570b3" stroke="#0a0a0a" stroke-width="1.25"/>
<text transform="translate(564.60 465.05) scale(1 1.08)" x="0" y="0" font-size="13.2" font-weight="normal" text-anchor="start">Ascomycota</text>
<g fill="#000" transform="translate(0 64.75) scale(1 0.86)"><ellipse cx="635.90" cy="459.92" rx="1.81" ry="0.95" transform="rotate(-90 635.90 459.92)"/><ellipse cx="638.35" cy="461.70" rx="1.81" ry="0.95" transform="rotate(-18 638.35 461.70)"/><ellipse cx="637.42" cy="464.59" rx="1.81" ry="0.95" transform="rotate(54 637.42 464.59)"/><ellipse cx="634.38" cy="464.59" rx="1.81" ry="0.95" transform="rotate(126 634.38 464.59)"/><ellipse cx="633.45" cy="461.70" rx="1.81" ry="0.95" transform="rotate(198 633.45 461.70)"/><circle cx="635.90" cy="462.50" r="0.95"/></g>
<rect x="536.20" y="472.48" width="20.3" height="9.3" fill="#d95f02" stroke="#0a0a0a" stroke-width="1.25"/>
<text transform="translate(564.60 481.53) scale(1 1.08)" x="0" y="0" font-size="13.2" font-weight="normal" text-anchor="start">Basidiomycota</text>
<rect x="536.20" y="488.96" width="20.3" height="9.3" fill="#1b9e77" stroke="#0a0a0a" stroke-width="1.25"/>
<text transform="translate(564.60 498.01) scale(1 1.08)" x="0" y="0" font-size="13.2" font-weight="normal" text-anchor="start">Mucoromycota</text>
<g fill="#000" transform="translate(0 69.19) scale(1 0.86)"><ellipse cx="651.70" cy="491.62" rx="1.81" ry="0.95" transform="rotate(-90 651.70 491.62)"/><ellipse cx="654.15" cy="493.40" rx="1.81" ry="0.95" transform="rotate(-18 654.15 493.40)"/><ellipse cx="653.22" cy="496.29" rx="1.81" ry="0.95" transform="rotate(54 653.22 496.29)"/><ellipse cx="650.18" cy="496.29" rx="1.81" ry="0.95" transform="rotate(126 650.18 496.29)"/><ellipse cx="649.25" cy="493.40" rx="1.81" ry="0.95" transform="rotate(198 649.25 493.40)"/><circle cx="651.70" cy="494.20" r="0.95"/></g>
</svg>
</body></html>
